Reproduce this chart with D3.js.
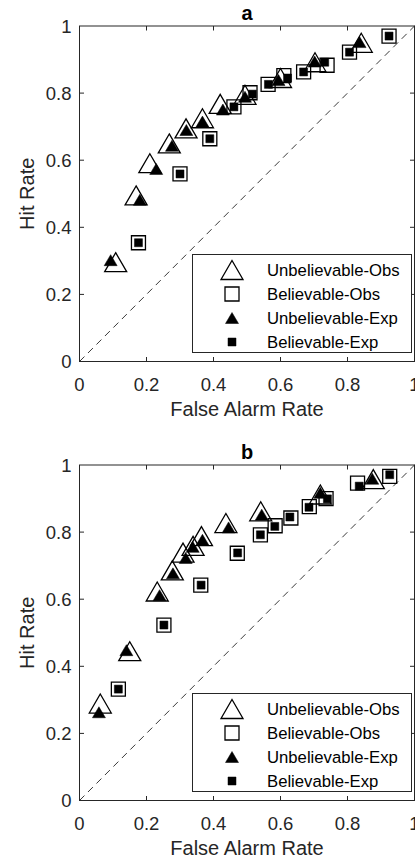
<!DOCTYPE html>
<html>
<head>
<meta charset="utf-8">
<script src="https://cdn.jsdelivr.net/npm/d3@7"></script>
<style>
  body { margin: 0; background: #fff; }
  svg { display: block; font-family: "Liberation Sans", Arial, sans-serif; }
</style>
</head>
<body>
<div class="chart"></div>
<script>
// [false alarm rate, hit rate]
const aUnbObs = [[0.108,0.296],[0.169,0.495],[0.210,0.591],[0.268,0.650],[0.318,0.695],[0.367,0.725],[0.420,0.768],[0.494,0.795],[0.600,0.845],[0.703,0.892],[0.841,0.950]]
const aBelObs = [[0.176,0.354],[0.300,0.559],[0.389,0.664],[0.461,0.759],[0.509,0.801],[0.563,0.826],[0.610,0.852],[0.669,0.863],[0.739,0.883],[0.806,0.922],[0.924,0.970]]
const aUnbExp = [[0.093,0.302],[0.180,0.482],[0.229,0.574],[0.276,0.643],[0.319,0.690],[0.367,0.715],[0.428,0.751],[0.494,0.789],[0.594,0.839],[0.702,0.894],[0.836,0.952]]
const aBelExp = [[0.176,0.354],[0.300,0.559],[0.389,0.664],[0.461,0.759],[0.516,0.797],[0.564,0.826],[0.621,0.845],[0.669,0.863],[0.732,0.892],[0.806,0.922],[0.924,0.970]]

const bUnbObs = [[0.062,0.289],[0.150,0.445],[0.232,0.623],[0.277,0.686],[0.309,0.739],[0.339,0.759],[0.364,0.788],[0.437,0.827],[0.541,0.862],[0.719,0.912],[0.877,0.958]]
const bBelObs = [[0.116,0.332],[0.252,0.523],[0.362,0.642],[0.471,0.737],[0.540,0.792],[0.584,0.819],[0.631,0.842],[0.686,0.876],[0.736,0.900],[0.830,0.946],[0.926,0.966]]
const bUnbExp = [[0.058,0.263],[0.140,0.448],[0.239,0.612],[0.279,0.677],[0.317,0.723],[0.338,0.756],[0.367,0.777],[0.445,0.814],[0.544,0.852],[0.719,0.917],[0.874,0.959]]
const bBelExp = [[0.116,0.332],[0.252,0.523],[0.363,0.642],[0.472,0.738],[0.540,0.792],[0.583,0.817],[0.628,0.845],[0.685,0.874],[0.740,0.899],[0.835,0.937],[0.926,0.971]]

const seriesNames = ['Unbelievable-Obs','Believable-Obs','Unbelievable-Exp','Believable-Exp']
const tickValues = [0, 0.2, 0.4, 0.6, 0.8, 1]
const tickLabels = ['0','0.2','0.4','0.6','0.8','1']
const panelTitles = ['a','b']
const xTitle = 'False Alarm Rate'
const yTitle = 'Hit Rate'

const w = 415, h = 861
const axisCol = '#262626'

const svg = d3.select('.chart')
              .append('svg')
              .attr('width', w)
              .attr('height', h)

// marker shapes, centred on the point
const tri = (tw, th) => `M0,${-th/2}L${tw/2},${th/2}L${-tw/2},${th/2}Z`
const sq = (s) => `M${-s/2},${-s/2}h${s}v${s}h${-s}Z`
const markers = [
  {path: tri(22,19), fill: 'none', stroke: '#000', sw: 1.3},
  {path: sq(14), fill: 'none', stroke: '#000', sw: 1.3},
  {path: tri(13,11), fill: '#000', stroke: '#000', sw: 0.5},
  {path: sq(8), fill: '#000', stroke: '#000', sw: 0.5}
]

const drawPanel = (top, title, series) => {
  const x = d3.scaleLinear().domain([0,1]).range([79.5, 414.5])
  const y = d3.scaleLinear().domain([0,1]).range([top+335.5, top])

  const g = svg.append('g')

  // box
  g.append('rect')
   .attr('x', x(0)).attr('y', y(1))
   .attr('width', x(1)-x(0)).attr('height', y(0)-y(1))
   .attr('fill', 'none').attr('stroke', axisCol).attr('stroke-width', 1)

  // ticks (inward, all four sides)
  const inner = tickValues.slice(1, -1)
  inner.forEach(t => {
    g.append('line').attr('x1', x(t)).attr('x2', x(t)).attr('y1', y(0)).attr('y2', y(0)-4.5).attr('stroke', axisCol)
    g.append('line').attr('x1', x(t)).attr('x2', x(t)).attr('y1', y(1)).attr('y2', y(1)+4.5).attr('stroke', axisCol)
    g.append('line').attr('y1', y(t)).attr('y2', y(t)).attr('x1', x(0)).attr('x2', x(0)+4.5).attr('stroke', axisCol)
    g.append('line').attr('y1', y(t)).attr('y2', y(t)).attr('x1', x(1)).attr('x2', x(1)-4.5).attr('stroke', axisCol)
  })

  // tick labels
  g.selectAll('.xt').data(tickValues).enter().append('text')
   .attr('x', d => x(d)).attr('y', y(0)+29)
   .attr('text-anchor', 'middle')
   .attr('font-size', 18.5).attr('fill', axisCol)
   .text((d,i) => tickLabels[i])
  g.selectAll('.yt').data(tickValues).enter().append('text')
   .attr('x', x(0)-8).attr('y', d => y(d)+6.5)
   .attr('text-anchor', 'end')
   .attr('font-size', 18.5).attr('fill', axisCol)
   .text((d,i) => tickLabels[i])

  // axis titles
  g.append('text')
   .attr('x', (x(0)+x(1))/2).attr('y', y(0)+54)
   .attr('text-anchor', 'middle').attr('font-size', 20).attr('fill', axisCol)
   .text(xTitle)
  g.append('text')
   .attr('transform', `translate(34,${(y(0)+y(1))/2}) rotate(-90)`)
   .attr('text-anchor', 'middle').attr('font-size', 20).attr('fill', axisCol)
   .text(yTitle)
  g.append('text')
   .attr('x', (x(0)+x(1))/2).attr('y', y(1)-6)
   .attr('text-anchor', 'middle').attr('font-size', 20).attr('font-weight', 'bold').attr('fill', '#000')
   .text(title)

  // chance line
  g.append('line')
   .attr('x1', x(0)).attr('y1', y(0)).attr('x2', x(1)).attr('y2', y(1))
   .attr('stroke', '#222').attr('stroke-width', 0.9).attr('stroke-dasharray', '7,5')

  // points
  series.forEach((data, k) => {
    const m = markers[k]
    g.selectAll(`.s${k}`).data(data).enter().append('path')
     .attr('d', m.path)
     .attr('transform', d => `translate(${x(d[0])},${y(d[1])})`)
     .attr('fill', m.fill).attr('stroke', m.stroke).attr('stroke-width', m.sw)
  })

  // legend
  const lx = 192, ly = top + 228, lw = 219, lh = 98
  g.append('rect')
   .attr('x', lx+0.5).attr('y', ly+0.5).attr('width', lw).attr('height', lh)
   .attr('fill', '#fff').attr('stroke', axisCol).attr('stroke-width', 1)
  seriesNames.forEach((name, k) => {
    const m = markers[k]
    const ry = ly + 16 + k*24
    g.append('path').attr('d', m.path)
     .attr('transform', `translate(232,${ry})`)
     .attr('fill', m.fill).attr('stroke', m.stroke).attr('stroke-width', m.sw)
    g.append('text').attr('x', 267).attr('y', ry+6)
     .attr('font-size', 16.7).attr('fill', '#000')
     .text(name)
  })
}

drawPanel(26, panelTitles[0], [aUnbObs, aBelObs, aUnbExp, aBelExp])
drawPanel(465, panelTitles[1], [bUnbObs, bBelObs, bUnbExp, bBelExp])
</script>
</body>
</html>
